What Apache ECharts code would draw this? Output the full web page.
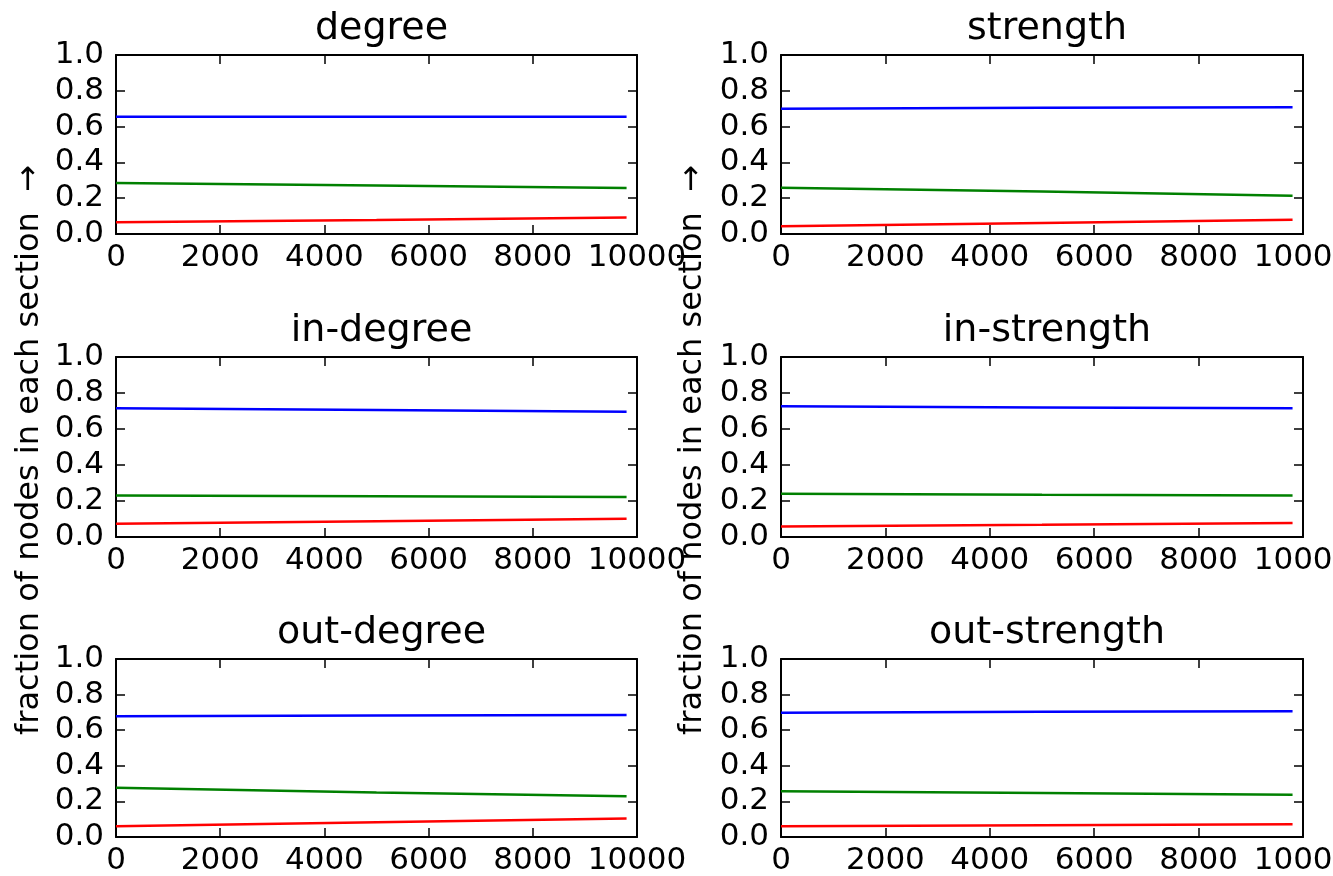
<!DOCTYPE html>
<html>
<head>
<meta charset="utf-8">
<script src="https://cdn.jsdelivr.net/npm/echarts@6/dist/echarts.min.js"></script>
<style>
html,body{margin:0;padding:0;background:#fff;}
#chart{width:1333px;height:876px;}
</style>
</head>
<body>
<div id="chart"></div>
<script>
// ---- data ----
const panelTitles = ['degree', 'strength', 'in-degree', 'in-strength', 'out-degree', 'out-strength'];
const xValues = [0, 5000, 9800];
const xTicks = [0, 2000, 4000, 6000, 8000, 10000];
const yTicks = [0.0, 0.2, 0.4, 0.6, 0.8, 1.0];
const yLabelText = 'fraction of nodes in each section  \u2192';

const blueDegree = [0.655, 0.655, 0.655];
const greenDegree = [0.285, 0.271, 0.257];
const redDegree = [0.065, 0.078, 0.092];

const blueStrength = [0.700, 0.705, 0.708];
const greenStrength = [0.259, 0.237, 0.214];
const redStrength = [0.043, 0.062, 0.080];

const blueInDegree = [0.715, 0.706, 0.696];
const greenInDegree = [0.231, 0.227, 0.222];
const redInDegree = [0.074, 0.088, 0.102];

const blueInStrength = [0.726, 0.720, 0.715];
const greenInStrength = [0.240, 0.235, 0.231];
const redInStrength = [0.059, 0.068, 0.078];

const blueOutDegree = [0.679, 0.682, 0.685];
const greenOutDegree = [0.276, 0.250, 0.229];
const redOutDegree = [0.060, 0.083, 0.104];

const blueOutStrength = [0.698, 0.703, 0.707];
const greenOutStrength = [0.257, 0.247, 0.238];
const redOutStrength = [0.060, 0.066, 0.071];

const panelSeries = [
  [blueDegree, greenDegree, redDegree],
  [blueStrength, greenStrength, redStrength],
  [blueInDegree, greenInDegree, redInDegree],
  [blueInStrength, greenInStrength, redInStrength],
  [blueOutDegree, greenOutDegree, redOutDegree],
  [blueOutStrength, greenOutStrength, redOutStrength]
];
const lineColors = ['#0000ff', '#008000', '#ff0000'];

// ---- layout ----
const FONT = 'DejaVu Sans';
const colLeft = [116, 781];
const colWidth = [521, 522];
const rowTop = [55, 357, 659];
const rowHeight = [179, 180, 178];

const grids = [], xAxes = [], yAxes = [], series = [], titles = [];
for (let i = 0; i < 6; i++) {
  const r = Math.floor(i / 2), c = i % 2;
  grids.push({left: colLeft[c], top: rowTop[r], width: colWidth[c], height: rowHeight[r],
    containLabel: false, outerBoundsMode: 'none'});
  const axisLine = {show: true, onZero: false, lineStyle: {color: '#000', width: 2}};
  const axisTick = {show: true, inside: true, length: 9, lineStyle: {color: '#000', width: 1.5}};
  const xBase = {type: 'value', gridIndex: i, min: xTicks[0], max: xTicks[xTicks.length - 1], interval: xTicks[1] - xTicks[0],
    axisLine, axisTick, splitLine: {show: false}};
  xAxes.push(Object.assign({}, xBase, {position: 'bottom',
    axisLabel: {show: true, fontSize: 31, fontFamily: FONT, color: '#000', margin: 8,
      formatter: v => String(Math.round(v)), showMinLabel: true, showMaxLabel: true, hideOverlap: false}}));
  xAxes.push(Object.assign({}, xBase, {position: 'top', axisLabel: {show: false}}));
  const yBase = {type: 'value', gridIndex: i, min: yTicks[0], max: yTicks[yTicks.length - 1], interval: 0.2,
    axisLine, axisTick, splitLine: {show: false}};
  yAxes.push(Object.assign({}, yBase, {position: 'left',
    axisLabel: {show: true, fontSize: 31, fontFamily: FONT, color: '#000', margin: 12,
      formatter: v => v.toFixed(1), showMinLabel: true, showMaxLabel: true}}));
  yAxes.push(Object.assign({}, yBase, {position: 'right', axisLabel: {show: false}}));

  panelSeries[i].forEach((vals, k) => {
    series.push({
      type: 'line', xAxisIndex: 2 * i, yAxisIndex: 2 * i,
      data: xValues.map((x, j) => [x, vals[j]]),
      showSymbol: false, symbol: 'none', silent: true,
      lineStyle: {color: lineColors[k], width: 2.5},
      z: 1
    });
  });

  titles.push({
    text: panelTitles[i],
    left: colLeft[c] + colWidth[c] / 2,
    textAlign: 'center',
    top: rowTop[r] - 50,
    textStyle: {fontSize: 38, fontWeight: 'normal', fontFamily: FONT, color: '#000'}
  });
}

const graphic = [30, 693].map(x => ({
  type: 'text',
  x: x, y: 450,
  rotation: Math.PI / 2,
  style: {text: yLabelText, font: '32px "DejaVu Sans"', fill: '#000', align: 'center', verticalAlign: 'middle'}
}));

const chart = echarts.init(document.getElementById('chart'), null, {renderer: 'canvas'});
chart.setOption({
  animation: false,
  backgroundColor: '#fff',
  title: titles,
  grid: grids,
  xAxis: xAxes,
  yAxis: yAxes,
  series: series,
  graphic: graphic
});
</script>
</body>
</html>
